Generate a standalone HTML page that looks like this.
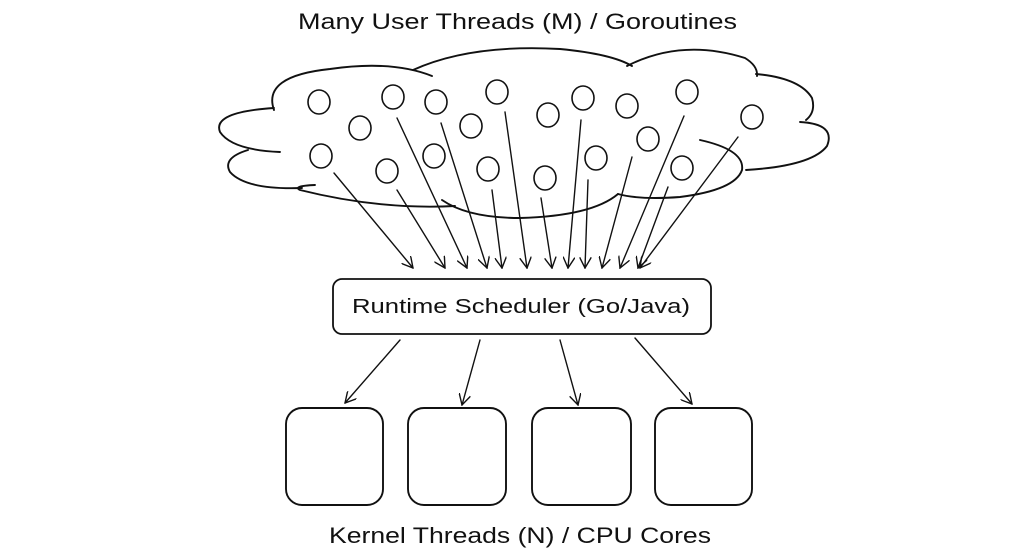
<!DOCTYPE html>
<html><head><meta charset="utf-8"><style>
html,body{margin:0;padding:0;background:#fff;}
svg{display:block;}
text{font-family:"Liberation Sans",sans-serif;fill:#111;}
</style></head><body>
<svg width="1024" height="559" viewBox="0 0 1024 559" xmlns="http://www.w3.org/2000/svg">
<defs>
<marker id="ah" viewBox="0 0 12 12" refX="11" refY="6" markerWidth="12" markerHeight="12" markerUnits="userSpaceOnUse" orient="auto">
<path d="M0,0 L11,6 L0,12" fill="none" stroke="#111" stroke-width="1.4"/>
</marker>
</defs>
<rect width="1024" height="559" fill="#fff"/>
<text x="298" y="29" font-size="22" textLength="439" lengthAdjust="spacingAndGlyphs">Many User Threads (M) / Goroutines</text>

<g fill="none" stroke="#111" stroke-width="1.9" stroke-linecap="round">
<path d="M274,110 Q262,76 330,69 Q392,60 432,76"/>
<path d="M413,70 Q470,44 560,49 Q612,54 632,66"/>
<path d="M627,66 Q682,38 745,58 Q758,66 757,76"/>
<path d="M756,74 Q800,78 812,98 Q816,112 806,120"/>
<path d="M800,122 Q836,124 827,146 Q812,166 746,170"/>
<path d="M700,140 Q745,150 742,170 Q735,190 680,197 Q640,200 618,194"/>
<path d="M618,194 Q592,216 520,218 Q468,218 442,200"/>
<path d="M455,206 Q380,210 300,190 Q292,186 315,185"/>
<path d="M280,152 Q232,150 220,132 Q212,112 274,108"/>
<path d="M248,150 Q222,158 230,172 Q246,190 302,188"/>
<g stroke-width="1.6">
<ellipse cx="319" cy="102" rx="11" ry="12"/>
<ellipse cx="360" cy="128" rx="11" ry="12"/>
<ellipse cx="393" cy="97" rx="11" ry="12"/>
<ellipse cx="436" cy="102" rx="11" ry="12"/>
<ellipse cx="471" cy="126" rx="11" ry="12"/>
<ellipse cx="497" cy="92" rx="11" ry="12"/>
<ellipse cx="548" cy="115" rx="11" ry="12"/>
<ellipse cx="583" cy="98" rx="11" ry="12"/>
<ellipse cx="627" cy="106" rx="11" ry="12"/>
<ellipse cx="687" cy="92" rx="11" ry="12"/>
<ellipse cx="752" cy="117" rx="11" ry="12"/>
<ellipse cx="321" cy="156" rx="11" ry="12"/>
<ellipse cx="387" cy="171" rx="11" ry="12"/>
<ellipse cx="434" cy="156" rx="11" ry="12"/>
<ellipse cx="488" cy="169" rx="11" ry="12"/>
<ellipse cx="545" cy="178" rx="11" ry="12"/>
<ellipse cx="596" cy="158" rx="11" ry="12"/>
<ellipse cx="648" cy="139" rx="11" ry="12"/>
<ellipse cx="682" cy="168" rx="11" ry="12"/>
</g>
<g stroke-width="1.4" marker-end="url(#ah)">
<line x1="334" y1="173" x2="413" y2="268"/>
<line x1="397" y1="190" x2="445" y2="268"/>
<line x1="397" y1="118" x2="467" y2="268"/>
<line x1="441" y1="123" x2="487" y2="268"/>
<line x1="492" y1="190" x2="502" y2="268"/>
<line x1="505" y1="112" x2="527" y2="268"/>
<line x1="541" y1="198" x2="552" y2="268"/>
<line x1="581" y1="120" x2="568" y2="268"/>
<line x1="588" y1="180" x2="585" y2="268"/>
<line x1="632" y1="157" x2="602" y2="268"/>
<line x1="684" y1="116" x2="620" y2="268"/>
<line x1="668" y1="187" x2="638" y2="268"/>
<line x1="738" y1="137" x2="640" y2="268"/>
</g>
<rect x="333" y="279" width="378" height="55" rx="9" stroke-width="1.8"/>
<g stroke-width="1.4" marker-end="url(#ah)">
<line x1="400" y1="340" x2="345" y2="403"/>
<line x1="480" y1="340" x2="462" y2="405"/>
<line x1="560" y1="340" x2="578" y2="405"/>
<line x1="635" y1="338" x2="692" y2="404"/>
</g>
<rect x="286" y="408" width="97" height="97" rx="16"/>
<rect x="408" y="408" width="98" height="97" rx="16"/>
<rect x="532" y="408" width="99" height="97" rx="16"/>
<rect x="655" y="408" width="97" height="97" rx="16"/>
</g>
<text x="352" y="313" font-size="20" textLength="338" lengthAdjust="spacingAndGlyphs">Runtime Scheduler (Go/Java)</text>
<text x="329" y="543" font-size="22" textLength="382" lengthAdjust="spacingAndGlyphs">Kernel Threads (N) / CPU Cores</text>
</svg>
</body></html>
